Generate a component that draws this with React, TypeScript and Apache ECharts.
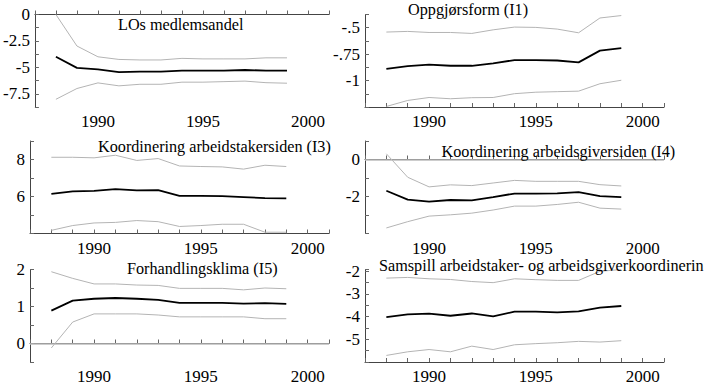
import React, { useEffect, useRef } from "react";
import * as echarts from "echarts";

const years = [1988, 1989, 1990, 1991, 1992, 1993, 1994, 1995, 1996, 1997, 1998, 1999];
const xTickLabels = [1990, 1995, 2000];

// Panel 1: LOs medlemsandel
const p1Title = "LOs medlemsandel";
const p1Est = [-4.0, -5.05, -5.2, -5.45, -5.4, -5.4, -5.3, -5.3, -5.3, -5.25, -5.3, -5.3];
const p1Upper = [0, -2.98, -4.0, -4.25, -4.3, -4.3, -4.15, -4.2, -4.2, -4.2, -4.1, -4.1];
const p1Lower = [-8.02, -7.0, -6.47, -6.75, -6.6, -6.6, -6.4, -6.4, -6.35, -6.3, -6.45, -6.5];
const p1YLabels = [0, -2.5, -5, -7.5];

// Panel 2: Oppgjørsform (I1)
const p2Title = "Oppgjørsform (I1)";
const p2Est = [-0.89, -0.863, -0.85, -0.86, -0.86, -0.838, -0.806, -0.806, -0.81, -0.828, -0.717, -0.694];
const p2Upper = [-0.541, -0.535, -0.545, -0.545, -0.554, -0.52, -0.494, -0.497, -0.513, -0.548, -0.408, -0.385];
const p2Lower = [-1.245, -1.188, -1.16, -1.172, -1.162, -1.16, -1.124, -1.11, -1.105, -1.1, -1.03, -0.997];
const p2YLabels = [-0.5, -0.75, -1];

// Panel 3: Koordinering arbeidstakersiden (I3)
const p3Title = "Koordinering arbeidstakersiden (I3)";
const p3Est = [6.14, 6.28, 6.3, 6.4, 6.33, 6.35, 6.03, 6.03, 6.02, 5.97, 5.91, 5.9];
const p3Upper = [8.12, 8.12, 8.09, 8.23, 7.95, 8.05, 7.65, 7.62, 7.6, 7.48, 7.69, 7.62];
const p3Lower = [4.17, 4.43, 4.57, 4.6, 4.7, 4.64, 4.38, 4.43, 4.5, 4.5, 4.07, 4.07];
const p3YLabels = [6, 8];

// Panel 4: Koordinering arbeidsgiversiden (I4)
const p4Title = "Koordinering arbeidsgiversiden (I4)";
const p4Est = [-1.69, -2.17, -2.28, -2.19, -2.21, -2.03, -1.84, -1.84, -1.83, -1.76, -1.98, -2.03];
const p4Upper = [0.31, -0.96, -1.48, -1.37, -1.41, -1.27, -1.13, -1.18, -1.18, -1.18, -1.36, -1.43];
const p4Lower = [-3.7, -3.36, -3.06, -2.99, -2.9, -2.73, -2.52, -2.52, -2.43, -2.31, -2.63, -2.68];
const p4YLabels = [0, -2];

// Panel 5: Forhandlingsklima (I5)
const p5Title = "Forhandlingsklima (I5)";
const p5Est = [0.89, 1.16, 1.21, 1.23, 1.21, 1.18, 1.1, 1.1, 1.1, 1.08, 1.09, 1.07];
const p5Upper = [1.94, 1.76, 1.61, 1.61, 1.58, 1.57, 1.49, 1.49, 1.49, 1.45, 1.5, 1.48];
const p5Lower = [-0.12, 0.58, 0.8, 0.8, 0.8, 0.77, 0.72, 0.72, 0.72, 0.72, 0.67, 0.67];
const p5YLabels = [0, 1, 2];

// Panel 6: Samspill arbeidstaker- og arbeidsgiverkoordinerin (as visible in the reference)
const p6Title = "Samspill arbeidstaker- og arbeidsgiverkoordinerin";
const p6Est = [-4.02, -3.9, -3.87, -3.96, -3.86, -3.99, -3.78, -3.78, -3.81, -3.77, -3.6, -3.53];
const p6Upper = [-2.3, -2.27, -2.33, -2.36, -2.45, -2.5, -2.33, -2.37, -2.4, -2.4, -2.0, -1.92];
const p6Lower = [-5.71, -5.55, -5.45, -5.55, -5.3, -5.45, -5.24, -5.19, -5.15, -5.09, -5.12, -5.06];
const p6YLabels = [-2, -3, -4, -5];

const FONT = "Liberation Serif";

type Panel = {
  title: string;
  est: number[];
  upper: number[];
  lower: number[];
  yLabels: number[];
  min: number;
  max: number;
  interval: number;
  zeroLine: boolean;
  left: number;
  top: number;
  titleX: number;
  titleY: number;
};

const COL_LEFT = [30, 365];
const ROW_TOP = [14.5, 141, 269.5];
const GRID_W = 299;
const GRID_H = 92.5;

const panels: Panel[] = [
  { title: p1Title, est: p1Est, upper: p1Upper, lower: p1Lower, yLabels: p1YLabels, min: -8.75, max: 0, interval: 1.25, zeroLine: false, left: COL_LEFT[0], top: ROW_TOP[0], titleX: 118, titleY: 25 },
  { title: p2Title, est: p2Est, upper: p2Upper, lower: p2Lower, yLabels: p2YLabels, min: -1.25, max: -0.375, interval: 0.125, zeroLine: false, left: COL_LEFT[1], top: ROW_TOP[0], titleX: 408, titleY: 10 },
  { title: p3Title, est: p3Est, upper: p3Upper, lower: p3Lower, yLabels: p3YLabels, min: 4, max: 9, interval: 1, zeroLine: false, left: COL_LEFT[0], top: ROW_TOP[1], titleX: 98, titleY: 146.5 },
  { title: p4Title, est: p4Est, upper: p4Upper, lower: p4Lower, yLabels: p4YLabels, min: -4, max: 1, interval: 1, zeroLine: true, left: COL_LEFT[1], top: ROW_TOP[1], titleX: 441.5, titleY: 151.5 },
  { title: p5Title, est: p5Est, upper: p5Upper, lower: p5Lower, yLabels: p5YLabels, min: -0.5, max: 2, interval: 0.5, zeroLine: true, left: COL_LEFT[0], top: ROW_TOP[2], titleX: 127, titleY: 269 },
  { title: p6Title, est: p6Est, upper: p6Upper, lower: p6Lower, yLabels: p6YLabels, min: -6, max: -1.92, interval: 0.5, zeroLine: false, left: COL_LEFT[1], top: ROW_TOP[2], titleX: 379, titleY: 265.5 },
];

function fmtY(v: number): string {
  const s = String(Math.round(v * 1000) / 1000);
  return s.replace(/^(-?)0\./, "$1.");
}

export default function App() {
  const ref = useRef<HTMLDivElement>(null);
  useEffect(() => {
    if (!ref.current) return;
    const chart = echarts.init(ref.current, null, { renderer: "svg" });
    const grid: any[] = [];
    const xAxis: any[] = [];
    const yAxis: any[] = [];
    const series: any[] = [];
    const graphic: any[] = [];
    const axisLineStyle = { color: "#444", width: 1 };
    panels.forEach((p, i) => {
      grid.push({ left: p.left, top: p.top, width: GRID_W, height: GRID_H, containLabel: false });
      xAxis.push({
        type: "value",
        gridIndex: i,
        min: 1987,
        max: 2001,
        interval: 1,
        axisLine: { show: true, lineStyle: axisLineStyle },
        axisTick: { show: true, inside: true, length: 4, lineStyle: { color: "#666", width: 1 } },
        splitLine: { show: false },
        axisLabel: {
          margin: 6,
          fontFamily: FONT,
          fontSize: 17,
          color: "#000",
          formatter: (v: number) => (xTickLabels.some((t) => Math.abs(t - v) < 1e-6) ? String(v) : ""),
        },
      });
      yAxis.push({
        type: "value",
        gridIndex: i,
        min: p.min,
        max: p.max,
        interval: p.interval,
        axisLine: { show: true, onZero: false, lineStyle: axisLineStyle },
        axisTick: { show: true, inside: true, length: 4, lineStyle: { color: "#666", width: 1 } },
        splitLine: { show: false },
        axisLabel: {
          margin: 5,
          fontFamily: FONT,
          fontSize: 17,
          color: "#000",
          showMaxLabel: true,
          showMinLabel: true,
          formatter: (v: number) => (p.yLabels.some((t) => Math.abs(t - v) < 1e-6) ? fmtY(v) : ""),
        },
      });
      const mk = (arr: number[]) => years.map((y, k) => [y, arr[k]]);
      series.push({
        type: "line",
        xAxisIndex: i,
        yAxisIndex: i,
        data: mk(p.upper),
        symbol: "none",
        lineStyle: { color: "#b4b4b4", width: 1 },
        silent: true,
        z: 2,
      });
      series.push({
        type: "line",
        xAxisIndex: i,
        yAxisIndex: i,
        data: mk(p.lower),
        symbol: "none",
        lineStyle: { color: "#b4b4b4", width: 1 },
        silent: true,
        z: 2,
      });
      series.push({
        type: "line",
        xAxisIndex: i,
        yAxisIndex: i,
        data: mk(p.est),
        symbol: "none",
        lineStyle: { color: "#000", width: 1.8 },
        silent: true,
        z: 3,
        markLine: p.zeroLine
          ? {
              silent: true,
              symbol: "none",
              label: { show: false },
              lineStyle: { color: "#bdbdbd", width: 1.5, type: "solid" },
              data: [{ yAxis: 0 }],
            }
          : undefined,
      });
      graphic.push({
        type: "text",
        x: p.titleX,
        y: p.titleY,
        z: 10,
        style: {
          text: p.title,
          fontFamily: FONT,
          fontSize: 16.2,
          fill: "#000",
          verticalAlign: "middle",
          align: "left",
        },
      });
    });
    chart.setOption({
      animation: false,
      backgroundColor: "#fff",
      textStyle: { fontFamily: FONT },
      grid,
      xAxis,
      yAxis,
      series,
      graphic,
    });
    return () => chart.dispose();
  }, []);
  return <div ref={ref} style={{ position: "fixed", left: 0, top: 0, width: 707, height: 387 }} />;
}
